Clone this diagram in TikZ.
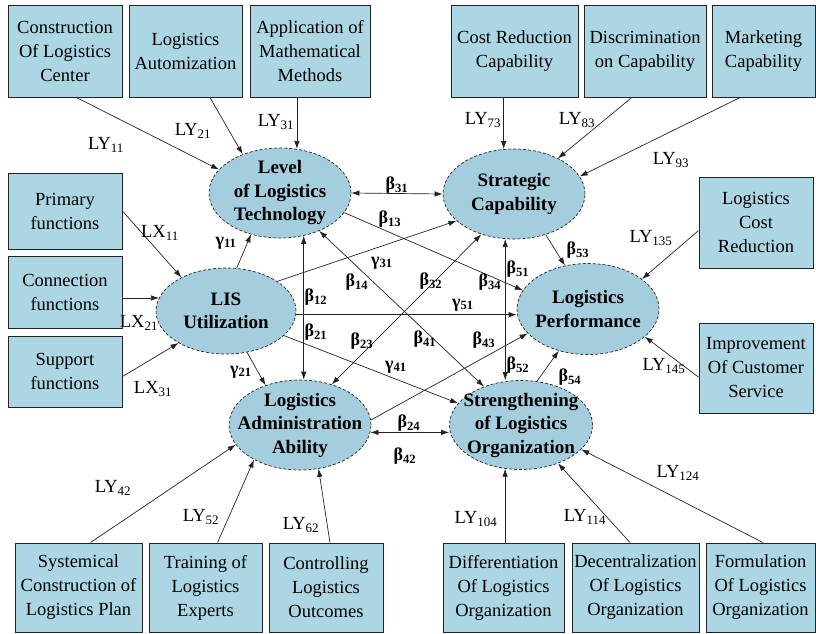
\documentclass[tikz,border=0pt]{standalone}
\usepackage{fontspec}
\setmainfont{Liberation Serif}
\usepackage{tikz}
\usetikzlibrary{shapes.geometric,arrows.meta}
\definecolor{boxblue}{RGB}{172,214,228}
\definecolor{ovalblue}{RGB}{164,206,222}
\definecolor{linegray}{RGB}{35,35,35}

\begin{document}
\begin{tikzpicture}[x=1pt, y=-1pt,
    every node/.style={font=\fontsize{18.5}{24}\selectfont},
    obs/.style={draw=linegray, fill=boxblue, rectangle, align=center, inner sep=0pt, line width=1pt},
    lat/.style={draw=linegray, fill=ovalblue, ellipse, densely dashed, line width=0.7pt, inner sep=0pt, minimum width=142pt, minimum height=90pt},
    lattext/.style={font=\fontsize{19}{23.5}\selectfont\bfseries, align=center},
    link/.style={draw=linegray, line width=0.7pt, -{Latex[length=8pt,width=5.5pt]}},
    dlink/.style={draw=linegray, line width=0.7pt, {Latex[length=8pt,width=5.5pt]}-{Latex[length=8pt,width=5.5pt]}},
    load/.style={inner sep=0pt},
    coef/.style={inner sep=0pt, font=\fontsize{18}{20}\selectfont\bfseries}]
                \useasboundingbox (0,0) rectangle (816,634);

                % Latent variables
                \node[lat] (tech) at (280,193) {};
                \node[lattext] (techtxt) at (tech) {Level\\of Logistics\\Technology};
                \node[lat] (strat) at (514,194) {};
                \node[lattext] (strattxt) at (strat) {Strategic\\Capability};
                \node[lat, minimum width=140pt, minimum height=86pt] (lis) at (226,311) {};
                \node[lattext] (listxt) at (lis) {LIS\\Utilization};
                \node[lat, minimum height=91pt] (perf) at (588,309) {};
                \node[lattext] (perftxt) at (perf) {Logistics\\Performance};
                \node[lat] (admin) at (300,425) {};
                \node[lattext] (admintxt) at (admin) {Logistics\\Administration\\Ability};
                \node[lat, minimum width=143pt, minimum height=89pt] (streng) at (521,425) {};
                \node[lattext] (strengtxt) at (streng) {Strengthening\\of Logistics\\Organization};

                % Top indicator boxes
                \node[obs, minimum width=114pt, minimum height=91pt] (c1) at (65,51.5) {Construction\\Of Logistics\\Center};
                \node[obs, minimum width=113pt, minimum height=91pt] (c2) at (185.5,51.5) {Logistics\\Automization};
                \node[obs, minimum width=120pt, minimum height=91pt] (c3) at (310,51.5) {Application of\\Mathematical\\Methods};
                \node[obs, minimum width=127pt, minimum height=91pt] (c4) at (514.5,51.5) {Cost Reduction\\Capability};
                \node[obs, minimum width=122pt, minimum height=91pt] (c5) at (645,51.5) {Discrimination\\on Capability};
                \node[obs, minimum width=103pt, minimum height=91pt] (c6) at (763.5,51.5) {Marketing\\Capability};

                % Left and right indicator boxes
                \node[obs, minimum width=114pt, minimum height=76pt] (prim) at (65,211) {Primary\\functions};
                \node[obs, minimum width=114pt, minimum height=72pt] (conn) at (65,292) {Connection\\functions};
                \node[obs, minimum width=114pt, minimum height=71pt] (supp) at (65,371.5) {Support\\functions};
                \node[obs, minimum width=114pt, minimum height=91pt] (lcr) at (756,222.5) {Logistics\\Cost\\Reduction};
                \node[obs, minimum width=114pt, minimum height=90pt] (imp) at (756,368) {Improvement\\Of Customer\\Service};

                % Bottom indicator boxes
                \node[obs, minimum width=127pt, minimum height=89pt] (sys) at (78.5,587.5) {Systemical\\Construction of\\Logistics Plan};
                \node[obs, minimum width=113pt, minimum height=89pt] (trn) at (205.5,587.5) {Training of\\Logistics\\Experts};
                \node[obs, minimum width=114pt, minimum height=89pt] (ctl) at (326,587.5) {Controlling\\Logistics\\Outcomes};
                \node[obs, minimum width=121pt, minimum height=89pt] (dif) at (503.5,587.5) {Differentiation\\Of Logistics\\Organization};
                \node[obs, minimum width=127pt, minimum height=89pt] (dec) at (635.5,587.5) {Decentralization\\Of Logistics\\Organization};
                \node[obs, minimum width=109pt, minimum height=89pt] (frm) at (760.5,587.5) {Formulation\\Of Logistics\\Organization};

                % Measurement arrows
                \draw[link] (c1.-76) -- (tech.159);
                \draw[link] (c2.-62) -- (tech.134);
                \draw[link] (c3.south -| tech.69) -- (tech.69);
                \draw[link] (c4.south -| strat.103) -- (strat.103);
                \draw[link] (c5.-106) -- (strat.39);
                \draw[link] (c6.-117) -- (strat.15);
                \draw[link] (prim.east) -- (lis.143);
                \draw[link] (conn.east |- lis.169) -- (lis.169);
                \draw[link] (supp.-5) -- (lis.214);
                \draw[link] (lcr.188) -- (perf.29);
                \draw[link] (imp.189) -- (perf.-26);
                \draw[link] (sys.75) -- (admin.197);
                \draw[link] (trn.75) -- (admin.217);
                \draw[link] (ctl.85) -- (admin.-67);
                \draw[link] (dif.north -| streng.-110) -- (streng.-110);
                \draw[link] (dec.97) -- (streng.-46);
                \draw[link] (frm.87) -- (streng.-22);

                % Loadings
                \node[load] (ly11) at (106,145) {LY\textsubscript{11}};
                \node[load] (ly21) at (193,131) {LY\textsubscript{21}};
                \node[load] (ly31) at (276,122) {LY\textsubscript{31}};
                \node[load] (ly73) at (483,120) {LY\textsubscript{73}};
                \node[load] (ly83) at (577,120) {LY\textsubscript{83}};
                \node[load] (ly93) at (671,160) {LY\textsubscript{93}};
                \node[load] (lx11) at (160,233) {LX\textsubscript{11}};
                \node[load] (lx21) at (139,323) {LX\textsubscript{21}};
                \node[load] (lx31) at (153,389) {LX\textsubscript{31}};
                \node[load] (ly135) at (651,238) {LY\textsubscript{135}};
                \node[load] (ly145) at (664,366) {LY\textsubscript{145}};
                \node[load] (ly42) at (113,488) {LY\textsubscript{42}};
                \node[load] (ly52) at (201,517) {LY\textsubscript{52}};
                \node[load] (ly62) at (301,525) {LY\textsubscript{62}};
                \node[load] (ly104) at (476,519) {LY\textsubscript{104}};
                \node[load] (ly114) at (585,517) {LY\textsubscript{114}};
                \node[load] (ly124) at (678,473) {LY\textsubscript{124}};

                % Structural paths
                \draw[dlink] (tech.east) -- (strat.west);
                \draw[link] (tech.-17) -- (perf.164);
                \draw[link] (lis.76) -- (tech.235);
                \draw[link] (lis.30) -- (strat.205);
                \draw[dlink] (tech.-44) -- (streng.134);
                \draw[dlink] (strat.231) -- (admin.52);
                \draw[dlink] (tech.-61) -- (tech.-61 |- admin.north);
                \draw[link] (lis.-3) -- (lis.-3 -| perf.west);
                \draw[link] (lis.-23) -- (streng.161);
                \draw[link] (lis.-63) -- (admin.131);
                \draw[link] (admin.4) -- (perf.202);
                \draw[dlink] (strat.-101) -- (strat.-101 |- streng.north);
                \draw[link] (strat.-52) -- (perf.118);
                \draw[link] (streng.70) -- (perf.235);
                \draw[dlink] (admin.-6) -- (admin.-6 -| streng.west);

                % Path coefficients
                \node[coef] (b31) at (397,185) {β\textsubscript{31}};
                \node[coef] (b13) at (390,219) {β\textsubscript{13}};
                \node[coef] (g11) at (226,243) {γ\textsubscript{11}};
                \node[coef] (g31) at (382,263) {γ\textsubscript{31}};
                \node[coef] (b14) at (357,282) {β\textsubscript{14}};
                \node[coef] (b32) at (431,281) {β\textsubscript{32}};
                \node[coef] (b34) at (490,282) {β\textsubscript{34}};
                \node[coef] (b12) at (316,297) {β\textsubscript{12}};
                \node[coef] (b51) at (518,269) {β\textsubscript{51}};
                \node[coef] (g51) at (463,305) {γ\textsubscript{51}};
                \node[coef] (b53) at (578,250) {β\textsubscript{53}};
                \node[coef] (b21) at (316,332) {β\textsubscript{21}};
                \node[coef] (b23) at (362,341) {β\textsubscript{23}};
                \node[coef] (b41) at (425,339) {β\textsubscript{41}};
                \node[coef] (b43) at (484,340) {β\textsubscript{43}};
                \node[coef] (g41) at (396,367) {γ\textsubscript{41}};
                \node[coef] (g21) at (241,372) {γ\textsubscript{21}};
                \node[coef] (b52) at (518,365) {β\textsubscript{52}};
                \node[coef] (b54) at (570,377) {β\textsubscript{54}};
                \node[coef] (b24) at (409,423) {β\textsubscript{24}};
                \node[coef] (b42) at (405,456) {β\textsubscript{42}};
            \end{tikzpicture}
\end{document}
